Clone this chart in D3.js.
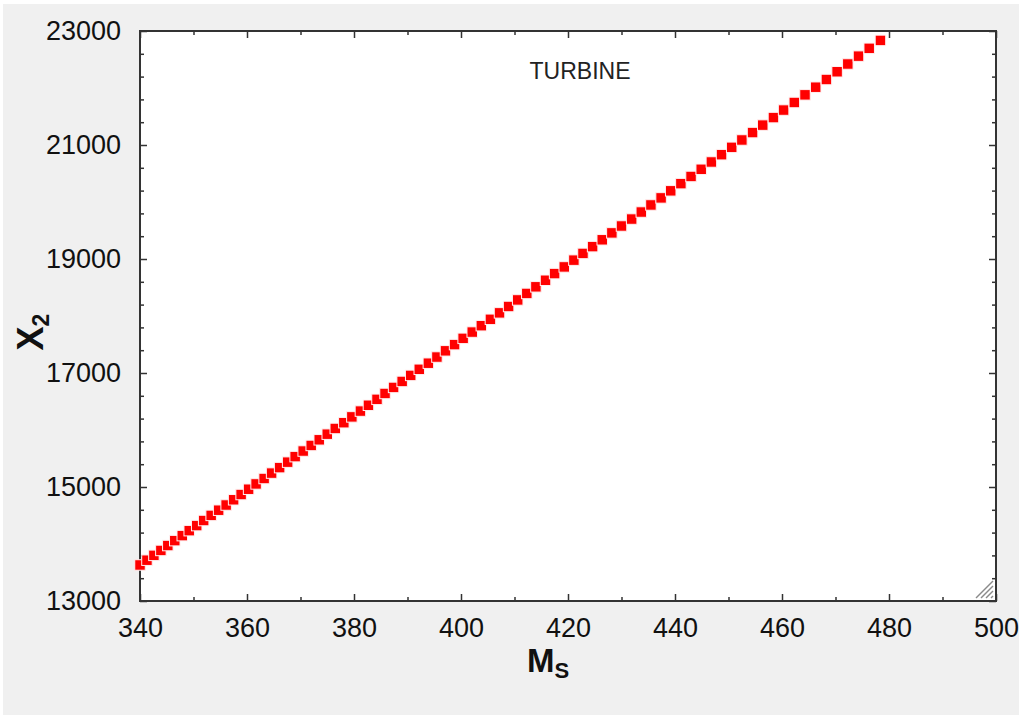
<!DOCTYPE html>
<html>
<head>
<meta charset="utf-8">
<script src="https://cdn.jsdelivr.net/npm/d3@7"></script>
<style>
  html, body { margin: 0; padding: 0; background: #ffffff; }
  svg { display: block; }
</style>
</head>
<body>
<svg id="chart" width="1024" height="717"></svg>
<script>
// ---- data ----
const msValues = [340.0, 341.3, 342.6, 343.9, 345.2, 346.5, 347.9, 349.2, 350.6, 351.9,
  353.3, 354.7, 356.1, 357.5, 358.9, 360.3, 361.7, 363.2, 364.6, 366.1,
  367.6, 369.0, 370.5, 372.0, 373.5, 375.0, 376.5, 378.1, 379.6, 381.2,
  382.7, 384.3, 385.8, 387.4, 389.0, 390.6, 392.2, 393.9, 395.5, 397.1,
  398.8, 400.4, 402.1, 403.8, 405.5, 407.2, 408.9, 410.6, 412.3, 414.0,
  415.8, 417.5, 419.3, 421.1, 422.8, 424.6, 426.4, 428.2, 430.0, 431.9,
  433.7, 435.5, 437.4, 439.2, 441.1, 443.0, 444.9, 446.8, 448.7, 450.6,
  452.5, 454.5, 456.4, 458.4, 460.3, 462.3, 464.3, 466.3, 468.3, 470.3,
  472.3, 474.3, 476.3, 478.4];
const x2Values = [13632, 13716, 13801, 13887, 13973, 14059, 14147, 14234, 14323, 14412,
  14502, 14593, 14684, 14776, 14868, 14961, 15054, 15149, 15244, 15340,
  15436, 15533, 15631, 15729, 15828, 15927, 16027, 16128, 16230, 16332,
  16434, 16538, 16641, 16747, 16852, 16958, 17065, 17172, 17280, 17389,
  17498, 17608, 17718, 17830, 17942, 18055, 18167, 18282, 18396, 18512,
  18627, 18744, 18861, 18980, 19098, 19217, 19337, 19458, 19579, 19701,
  19824, 19948, 20072, 20196, 20322, 20448, 20574, 20702, 20830, 20959,
  21088, 21218, 21349, 21481, 21613, 21746, 21880, 22014, 22149, 22285,
  22421, 22559, 22696, 22835];
const xTicks = [340, 360, 380, 400, 420, 440, 460, 480, 500];
const yTicks = [13000, 15000, 17000, 19000, 21000, 23000];
const xMinorTicks = [350, 370, 390, 410, 430, 450, 470, 490];
const yMinorTicks = [13400, 13800, 14200, 14600, 15400, 15800, 16200, 16600,
  17400, 17800, 18200, 18600, 19400, 19800, 20200, 20600, 21400, 21800, 22200, 22600];
const chartTitle = "TURBINE";

// ---- layout ----
const svg = d3.select("#chart");
const W = 1024, H = 717;
const m = { left: 140, top: 31, right: 996, bottom: 601 };

svg.append("rect").attr("x", 0).attr("y", 0).attr("width", W).attr("height", H).attr("fill", "#ffffff");
svg.append("rect").attr("x", 3).attr("y", 4).attr("width", W - 8).attr("height", H - 6).attr("fill", "#f0f0f0");
svg.append("rect").attr("x", m.left).attr("y", m.top)
  .attr("width", m.right - m.left).attr("height", m.bottom - m.top).attr("fill", "#ffffff");

const x = d3.scaleLinear().domain([340, 500]).range([m.left, m.right]);
const y = d3.scaleLinear().domain([13000, 23000]).range([m.bottom, m.top]);

const font = "'Liberation Sans', Arial, sans-serif";
const axisColor = "#333333";

function styleAxis(g) {
  g.select(".domain").remove();
  g.selectAll("line").attr("stroke", axisColor).attr("stroke-width", 1.5);
}

// bottom axis (labels + inward ticks)
const gB = svg.append("g").attr("transform", `translate(0,${m.bottom})`)
  .call(d3.axisBottom(x).tickValues(xTicks).tickSize(-7).tickPadding(17).tickFormat(d3.format("d")));
styleAxis(gB);
gB.selectAll("text").attr("font-family", font).attr("font-size", 27).attr("fill", "#111").attr("dy", "0.71em");
svg.append("g").attr("transform", `translate(0,${m.bottom})`)
  .call(d3.axisBottom(x).tickValues(xMinorTicks).tickSize(-4).tickFormat(""))
  .call(styleAxis);

// top axis
svg.append("g").attr("transform", `translate(0,${m.top})`)
  .call(d3.axisTop(x).tickValues(xTicks).tickSize(-7).tickFormat(""))
  .call(styleAxis);
svg.append("g").attr("transform", `translate(0,${m.top})`)
  .call(d3.axisTop(x).tickValues(xMinorTicks).tickSize(-4).tickFormat(""))
  .call(styleAxis);

// left axis
const gL = svg.append("g").attr("transform", `translate(${m.left},0)`)
  .call(d3.axisLeft(y).tickValues(yTicks).tickSize(-7).tickPadding(19).tickFormat(d3.format("d")));
styleAxis(gL);
gL.selectAll("text").attr("font-family", font).attr("font-size", 27).attr("fill", "#111");
svg.append("g").attr("transform", `translate(${m.left},0)`)
  .call(d3.axisLeft(y).tickValues(yMinorTicks).tickSize(-4).tickFormat(""))
  .call(styleAxis);

// right axis
svg.append("g").attr("transform", `translate(${m.right},0)`)
  .call(d3.axisRight(y).tickValues(yTicks).tickSize(-7).tickFormat(""))
  .call(styleAxis);
svg.append("g").attr("transform", `translate(${m.right},0)`)
  .call(d3.axisRight(y).tickValues(yMinorTicks).tickSize(-4).tickFormat(""))
  .call(styleAxis);

// frame
svg.append("rect").attr("x", m.left).attr("y", m.top)
  .attr("width", m.right - m.left).attr("height", m.bottom - m.top)
  .attr("fill", "none").attr("stroke", axisColor).attr("stroke-width", 2);

// resize grip
const grip = svg.append("g").attr("stroke", "#8a8a8a").attr("stroke-width", 1.4);
[0, 5, 10, 15].forEach(o => {
  grip.append("line").attr("x1", m.right - 5 - o).attr("y1", m.bottom - 3)
    .attr("x2", m.right - 3).attr("y2", m.bottom - 5 - o);
});

// points
const pts = msValues.map((v, i) => ({ ms: v, x2: x2Values[i] }));
const s = 10.5;
svg.append("g").selectAll("rect").data(pts).join("rect")
  .attr("x", d => x(d.ms) - s / 2)
  .attr("y", d => y(d.x2) - s / 2)
  .attr("width", s).attr("height", s)
  .attr("fill", "#ff0000")
  .attr("stroke", "#fff0f0").attr("stroke-width", 1);

// title in plot
svg.append("text").attr("x", 580).attr("y", 79).attr("text-anchor", "middle")
  .attr("font-family", font).attr("font-size", 23).attr("fill", "#222").text(chartTitle);

// axis titles
const xt = svg.append("text").attr("x", 548).attr("y", 672).attr("text-anchor", "middle")
  .attr("font-family", font).attr("font-weight", "bold").attr("fill", "#111");
xt.append("tspan").attr("font-size", 33).text("M");
xt.append("tspan").attr("font-size", 22).attr("dy", 6).text("S");

const yt = svg.append("text").attr("transform", "translate(43,332) rotate(-90)").attr("text-anchor", "middle")
  .attr("font-family", font).attr("font-weight", "bold").attr("fill", "#111");
yt.append("tspan").attr("font-size", 36).text("X");
yt.append("tspan").attr("font-size", 23).attr("dy", 6).text("2");
</script>
</body>
</html>
